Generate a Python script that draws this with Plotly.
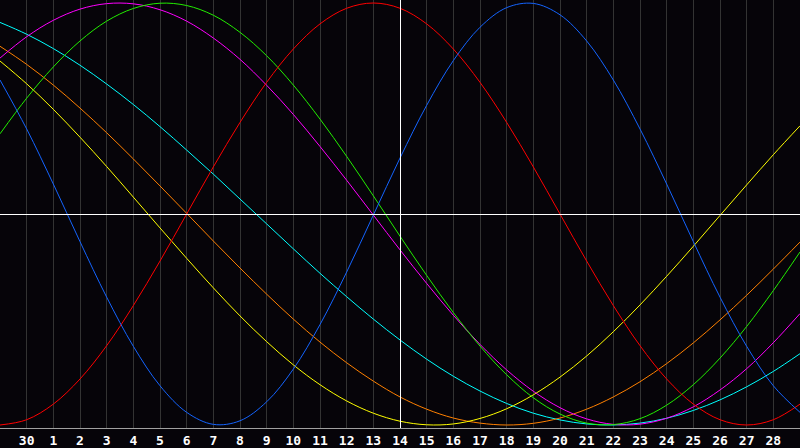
import plotly.graph_objects as go

# day slots across the chart (gridline index 0..30)
day_index = list(range(31))
# labels shown under gridlines 1..29
tick_labels = ["30"] + [str(d) for d in range(1, 29)]
today_index = 15

physical = [0.635, 0.403, 0.142, -0.131, -0.394, -0.627, -0.814, -0.940, -0.997, -0.980,
            -0.890, -0.735, -0.524, -0.275, -0.005, 0.265, 0.515, 0.727, 0.885, 0.978,
            0.998, 0.944, 0.820, 0.635, 0.403, 0.142, -0.131, -0.394, -0.627, -0.814, -0.940]
emotional = [-1.000, -0.975, -0.901, -0.782, -0.624, -0.434, -0.223, 0.000, 0.223, 0.434,
             0.624, 0.782, 0.901, 0.975, 1.000, 0.975, 0.901, 0.782, 0.624, 0.434,
             0.223, 0.000, -0.223, -0.434, -0.624, -0.782, -0.901, -0.975, -1.000, -0.975, -0.901]
intellectual = [0.380, 0.549, 0.697, 0.820, 0.914, 0.974, 0.999, 0.988, 0.942, 0.861,
                0.750, 0.611, 0.450, 0.273, 0.086, -0.105, -0.291, -0.467, -0.626, -0.762,
                -0.871, -0.948, -0.991, -0.998, -0.970, -0.906, -0.809, -0.683, -0.533, -0.363, -0.180]
intuitive = [0.739, 0.840, 0.918, 0.971, 0.997, 0.996, 0.968, 0.914, 0.834, 0.733,
             0.610, 0.472, 0.320, 0.160, -0.005, -0.170, -0.329, -0.480, -0.618, -0.739,
             -0.840, -0.918, -0.971, -0.997, -0.996, -0.968, -0.914, -0.834, -0.733, -0.610, -0.472]
aesthetic = [0.725, 0.617, 0.496, 0.364, 0.225, 0.080, -0.066, -0.210, -0.350, -0.483,
             -0.605, -0.715, -0.809, -0.886, -0.944, -0.982, -0.999, -0.995, -0.969, -0.923,
             -0.857, -0.773, -0.673, -0.558, -0.431, -0.295, -0.153, -0.007, 0.138, 0.281, 0.418]
awareness = [0.795, 0.709, 0.611, 0.502, 0.385, 0.261, 0.133, 0.003, -0.128, -0.256,
             -0.380, -0.498, -0.607, -0.705, -0.792, -0.867, -0.925, -0.967, -0.991, -1.000,
             -0.992, -0.967, -0.925, -0.867, -0.795, -0.709, -0.611, -0.502, -0.385, -0.261, -0.133]
spiritual = [0.908, 0.852, 0.784, 0.705, 0.616, 0.519, 0.414, 0.303, 0.189, 0.071,
             -0.047, -0.165, -0.281, -0.392, -0.498, -0.597, -0.688, -0.769, -0.839, -0.898,
             -0.944, -0.976, -0.995, -1.000, -0.991, -0.968, -0.931, -0.881, -0.819, -0.746, -0.662]

series = [
    ("Spiritual", spiritual, "#00ffff"),
    ("Awareness", awareness, "#ff8000"),
    ("Aesthetic", aesthetic, "#ffff00"),
    ("Intuitive", intuitive, "#ff00ff"),
    ("Intellectual", intellectual, "#22ee00"),
    ("Emotional", emotional, "#ff0000"),
    ("Physical", physical, "#1464ff"),
]

fig = go.Figure()
for name, vals, color in series:
    fig.add_trace(go.Scatter(
        x=day_index, y=vals, mode="lines", name=name,
        line=dict(color=color, width=1, shape="spline", smoothing=1.0),
        hoverinfo="skip",
    ))

# half-pixel nudges keep the 1px reference lines crisp
y_half_px = 2 * 1.0142 / 428 / 2
x_half_px = 30 / 800 / 2
fig.add_hline(y=0 - y_half_px, line=dict(color="#ffffff", width=1), layer="above")
fig.add_vline(x=today_index + x_half_px, line=dict(color="#ffffff", width=1), layer="above")

fig.update_layout(
    width=800, height=448,
    margin=dict(l=0, r=0, t=0, b=20),
    paper_bgcolor="#060409",
    plot_bgcolor="#060409",
    showlegend=False,
    xaxis=dict(
        range=[0, 30],
        tickmode="array",
        tickvals=list(range(1, 30)),
        ticktext=tick_labels,
        showgrid=True, gridcolor="#333333", gridwidth=1,
        zeroline=False,
        showline=True, linecolor="#a0a0a0", linewidth=1, mirror=True,
        ticks="",
        tickfont=dict(family="DejaVu Sans Mono", size=13, color="#ffffff", weight="bold"),
        fixedrange=True,
    ),
    yaxis=dict(
        range=[-1.0142, 1.0142],
        showgrid=False, zeroline=False, showticklabels=False,
        showline=True, linecolor="#a0a0a0", linewidth=1, mirror=True,
        ticks="",
        fixedrange=True,
    ),
)

fig.write_html(
    "out.html",
    config={"displayModeBar": False},
    post_script="document.body.style.margin='0px';document.body.style.background='#060409';",
)
